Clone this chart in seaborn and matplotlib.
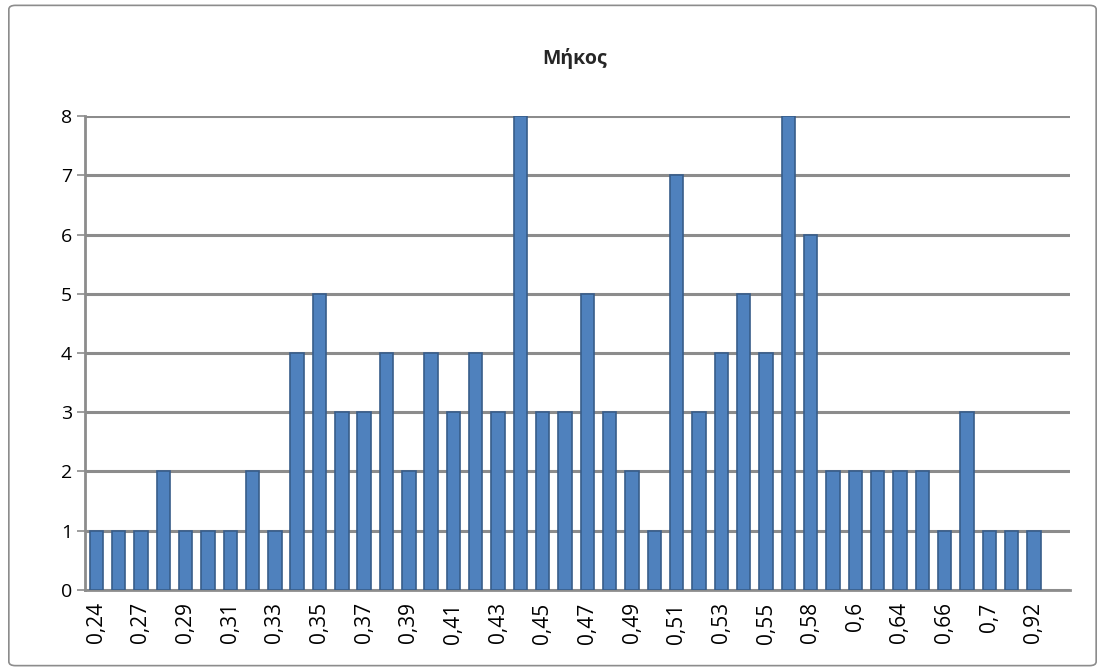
import matplotlib
matplotlib.use("Agg")
import matplotlib.pyplot as plt
import seaborn as sns
import pandas as pd
from matplotlib.patches import FancyBboxPatch

# categories (length values) and counts
lengths = ["0,24", "0,26", "0,27", "0,28", "0,29", "0,3", "0,31", "0,32", "0,33", "0,34",
           "0,35", "0,36", "0,37", "0,38", "0,39", "0,4", "0,41", "0,42", "0,43", "0,44",
           "0,45", "0,46", "0,47", "0,48", "0,49", "0,5", "0,51", "0,52", "0,53", "0,54",
           "0,55", "0,56", "0,58", "0,59", "0,6", "0,62", "0,64", "0,65", "0,66", "0,68",
           "0,7", "0,72", "0,92"]
counts = [1, 1, 1, 2, 1, 1, 1, 2, 1, 4,
          5, 3, 3, 4, 2, 4, 3, 4, 3, 8,
          3, 3, 5, 3, 2, 1, 7, 3, 4, 5,
          4, 8, 6, 2, 2, 2, 2, 2, 1, 3,
          1, 1, 1]
title = "Μήκος"

df = pd.DataFrame({"len": lengths, "n": counts})

sns.set_style("white")
plt.rcParams['font.family'] = ['Open Sans', 'DejaVu Sans']

fig = plt.figure(figsize=(11.05, 6.71), dpi=100)
ax = fig.add_axes([0.077, 0.121, 0.891, 0.706])

sns.barplot(data=df, x="len", y="n", color="#4F81BD", width=0.6,
            edgecolor="#385D8A", linewidth=1.2, saturation=1, ax=ax, zorder=3)

ax.set_ylim(0, 8)
ax.set_xlim(-0.49, len(lengths) + 0.6)
ax.set_yticks(range(0, 9))
ax.yaxis.grid(True, color="#8C8C8C", linewidth=2.2, zorder=0)
ax.set_axisbelow(True)

# every other category label, Excel style
ax.set_xticks(range(0, len(lengths), 2))
ax.set_xticklabels(lengths[::2], rotation=90, fontsize=15, color="black")
ax.set_xticks([i - 0.5 for i in range(len(lengths) + 1)], minor=True)
ax.tick_params(axis="x", which="major", length=0, pad=9)
ax.tick_params(axis="x", which="minor", length=6, color="#8C8C8C", width=1.2)
ax.tick_params(axis="y", length=6, color="#8C8C8C", width=1.2, labelsize=14,
               labelcolor="black", left=True)
ax.set_xlabel("")
ax.set_ylabel("")

for s in ["top", "right"]:
    ax.spines[s].set_visible(False)
for s in ["left", "bottom"]:
    ax.spines[s].set_color("#8C8C8C")
    ax.spines[s].set_linewidth(2)

fig.text(0.52, 0.913, title, ha="center", va="center", fontsize=14, fontweight="bold")

border = FancyBboxPatch((0.008, 0.008), 0.984, 0.984, boxstyle="round,pad=0,rounding_size=0.006",
                        transform=fig.transFigure, fill=False, edgecolor="#8C8C8C", linewidth=1.2)
fig.patches.append(border)

fig.savefig("out.png", dpi=100)
